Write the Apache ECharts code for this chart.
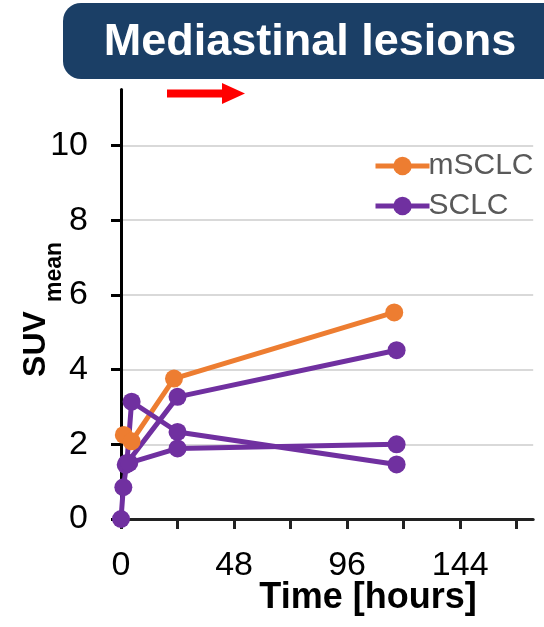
<!DOCTYPE html>
<html>
<head>
<meta charset="utf-8">
<script src="https://cdn.jsdelivr.net/npm/echarts@6/dist/echarts.min.js"></script>
<style>
html,body{margin:0;padding:0;background:#fff;}
#chart{width:544px;height:627px;}
</style>
</head>
<body>
<div id="chart"></div>
<script>
// ---- data ----
const xTickValues = [0, 24, 48, 72, 96, 120, 144, 168];
const xLabelValues = [0, 48, 96, 144];
const yTickValues = [0, 2, 4, 6, 8, 10];
// [time (h), SUVmean]
const mSCLC = [[1.2, 2.25], [4.5, 2.08], [22.5, 3.76], [116, 5.53]];
const sclcLesionA = [[0, 0], [1, 0.85], [2.5, 1.5], [4.5, 3.14], [24, 2.33], [117, 1.46]];
const sclcLesionB = [[2, 1.45], [24, 3.27], [117, 4.52]];
const sclcLesionC = [[3.5, 1.5], [24, 1.89], [117, 2.0]];
const titleText = 'Mediastinal lesions';
const xName = 'Time [hours]';

const FONT = '"Liberation Sans", Arial, sans-serif';
const ORANGE = '#ed7d31';
const PURPLE = '#7030a0';

function lineSeries(name, data, color) {
  return {
    type: 'line', name: name, data: data, clip: false,
    symbol: 'circle', symbolSize: 18,
    lineStyle: {color: color, width: 5},
    itemStyle: {color: color},
    emphasis: {disabled: true},
    animation: false
  };
}

const chart = echarts.init(document.getElementById('chart'), null, {renderer: 'canvas'});
chart.setOption({
  animation: false,
  backgroundColor: '#fff',
  grid: {left: 121, right: 10.8, top: 89.5, bottom: 108, containLabel: false},
  xAxis: {
    type: 'value', min: 0, max: 175, interval: 24,
    axisLine: {show: true, lineStyle: {color: '#222', width: 3}},
    axisTick: {show: true, customValues: xTickValues, length: 10, lineStyle: {color: '#222', width: 3}},
    axisLabel: {customValues: xLabelValues, margin: 30, fontSize: 34, color: '#000', fontFamily: FONT},
    splitLine: {show: false}
  },
  yAxis: {
    type: 'value', min: 0, max: 11.5, interval: 2,
    axisLine: {show: true, lineStyle: {color: '#000', width: 3}},
    axisTick: {show: true, customValues: yTickValues, length: 10, lineStyle: {color: '#000', width: 3}},
    axisLabel: {customValues: yTickValues, margin: 33, fontSize: 34, color: '#000', fontFamily: FONT},
    splitLine: {show: true, lineStyle: {color: '#d9d9d9', width: 2}}
  },
  legend: {
    orient: 'vertical', left: 368, top: 146,
    itemWidth: 54, itemHeight: 23, itemGap: 10,
    lineStyle: {width: 5},
    textStyle: {fontSize: 30, color: '#595959', fontFamily: FONT, padding: [0, 0, 0, -6]},
    data: ['mSCLC', 'SCLC']
  },
  graphic: [
    {type: 'rect', shape: {x: 63, y: 3, width: 520, height: 76, r: 18},
     style: {fill: '#1b3f66'}, z: 10},
    {type: 'text', x: 310, y: 43, z: 11,
     style: {text: titleText, fill: '#fff', font: 'bold 45px ' + FONT, align: 'center', verticalAlign: 'middle'}},
    {type: 'rect', shape: {x: 167, y: 89.5, width: 57, height: 8}, style: {fill: '#ff0000'}, z: 10},
    {type: 'polygon', shape: {points: [[222, 83], [245, 93.5], [222, 104]]}, style: {fill: '#ff0000'}, z: 10},
    {type: 'text', x: 36, y: 344, rotation: Math.PI / 2, z: 11,
     style: {text: 'SUV', fill: '#000', font: 'bold 32px ' + FONT, align: 'center', verticalAlign: 'middle'}},
    {type: 'text', x: 55, y: 272, rotation: Math.PI / 2, z: 11,
     style: {text: 'mean', fill: '#000', font: 'bold 23px ' + FONT, align: 'center', verticalAlign: 'middle'}},
    {type: 'text', x: 368, y: 598, z: 11,
     style: {text: xName, fill: '#000', font: 'bold 36px ' + FONT, align: 'center', verticalAlign: 'middle'}}
  ],
  series: [
    lineSeries('mSCLC', mSCLC, ORANGE),
    lineSeries('SCLC', sclcLesionA, PURPLE),
    lineSeries('SCLC', sclcLesionB, PURPLE),
    lineSeries('SCLC', sclcLesionC, PURPLE)
  ]
});
</script>
</body>
</html>
